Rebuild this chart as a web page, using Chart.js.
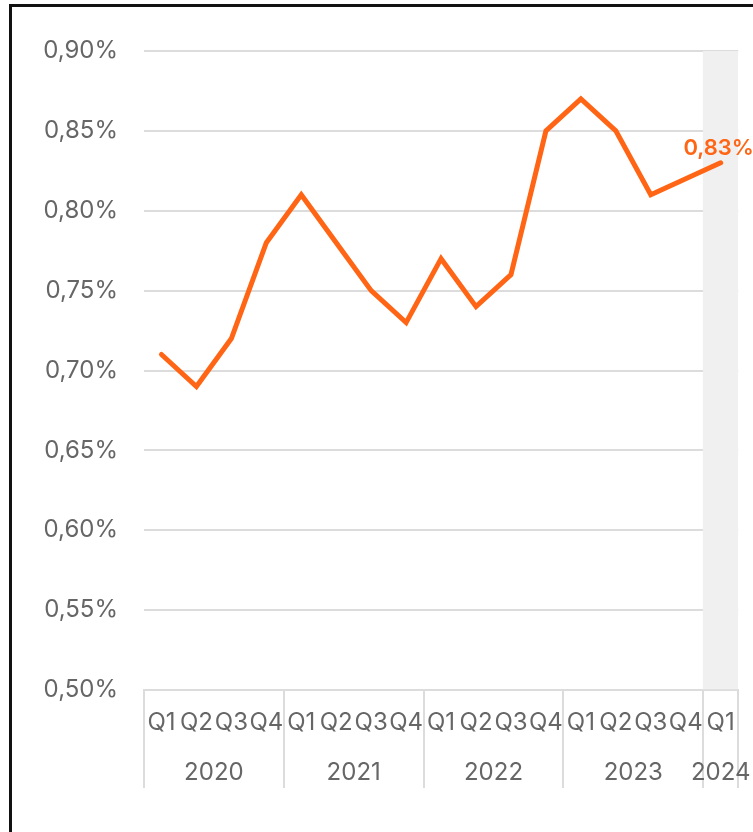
<!DOCTYPE html>
<html>
<head>
<meta charset="utf-8">
<script src="https://cdn.jsdelivr.net/npm/chart.js@4.4.1/dist/chart.umd.min.js"></script>
<style>
  html, body { margin: 0; padding: 0; background: #fff; overflow: hidden; }
  #wrap { position: relative; width: 753px; height: 832px; }
  #c { position: absolute; left: 0; top: 0; }
  #frame { position: absolute; left: 9px; top: 4px; width: 900px; height: 900px;
           border-left: 3px solid #111; border-top: 3px solid #111; pointer-events: none; }
</style>
</head>
<body>
<div id="wrap">
  <canvas id="c" width="753" height="832"></canvas>
  <div id="frame"></div>
</div>
<script>
const quarters = ['Q1','Q2','Q3','Q4','Q1','Q2','Q3','Q4','Q1','Q2','Q3','Q4','Q1','Q2','Q3','Q4','Q1'];
const categoryYears = ['2020','2020','2020','2020','2021','2021','2021','2021','2022','2022','2022','2022','2023','2023','2023','2023','2024'];
const rateValues = [0.71, 0.69, 0.72, 0.78, 0.81, 0.78, 0.75, 0.73, 0.77, 0.74, 0.76, 0.85, 0.87, 0.85, 0.81, 0.82, 0.83];
const highlightValues = [null,null,null,null,null,null,null,null,null,null,null,null,null,null,null,null,0.90];
const yTicks = [0.50, 0.55, 0.60, 0.65, 0.70, 0.75, 0.80, 0.85, 0.90];

const FONT = 'Inter, "Open Sans", sans-serif';
const ORANGE = '#FF6514';
const GRID = '#dcdcdc';
const fmt = v => v.toFixed(2).replace('.', ',') + '%';

const yearGroups = [];
categoryYears.forEach((y, i) => {
  const g = yearGroups[yearGroups.length - 1];
  if (g && g.year === y) g.end = i; else yearGroups.push({ year: y, start: i, end: i });
});

const groupPlugin = {
  id: 'groups',
  afterDraw(chart) {
    const ctx = chart.ctx, xs = chart.scales.x, area = chart.chartArea;
    const step = xs.getPixelForValue(1) - xs.getPixelForValue(0);
    const top = area.bottom, bottom = top + 98;
    ctx.save();
    ctx.strokeStyle = GRID; ctx.lineWidth = 2;
    const bounds = new Set();
    yearGroups.forEach(g => {
      bounds.add(xs.getPixelForValue(g.start) - step / 2);
      bounds.add(xs.getPixelForValue(g.end) + step / 2);
    });
    bounds.forEach(x => {
      ctx.beginPath(); ctx.moveTo(Math.round(x), top); ctx.lineTo(Math.round(x), bottom); ctx.stroke();
    });
    ctx.fillStyle = '#666';
    ctx.font = '400 24px ' + FONT;
    ctx.textAlign = 'center'; ctx.textBaseline = 'middle';
    yearGroups.forEach(g => {
      const cx = (xs.getPixelForValue(g.start) + xs.getPixelForValue(g.end)) / 2;
      ctx.fillText(g.year, cx, top + 83);
    });
    // last value label
    const meta = chart.getDatasetMeta(1);
    const last = meta.data[meta.data.length - 1];
    ctx.fillStyle = ORANGE;
    ctx.font = '600 22px ' + FONT;
    ctx.textBaseline = 'alphabetic';
    ctx.fillText(fmt(rateValues[rateValues.length - 1]), last.x - 2, last.y - 8);
    ctx.restore();
  }
};

new Chart(document.getElementById('c'), {
  type: 'bar',
  data: {
    labels: quarters,
    datasets: [
      { type: 'bar', data: highlightValues, backgroundColor: '#f0f0f0', barPercentage: 1, categoryPercentage: 1, order: 2, base: 0.5 },
      { type: 'line', data: rateValues, borderColor: ORANGE, borderWidth: 5, pointRadius: 0, tension: 0, order: 1, borderCapStyle: 'round', clip: false }
    ]
  },
  options: {
    responsive: false,
    animation: false,
    layout: { padding: { left: 10, right: 9, top: 51, bottom: 42 } },
    plugins: { legend: { display: false }, tooltip: { enabled: false } },
    scales: {
      x: {
        offset: true,
        grid: { display: false, drawTicks: false },
        border: { display: true, color: GRID, width: 2 },
        ticks: { color: '#666', font: { family: FONT, size: 24 }, padding: 18, autoSkip: false, maxRotation: 0 },
        afterFit(s) { s.height = 100; }
      },
      y: {
        min: 0.5, max: 0.9,
        afterBuildTicks(s) { s.ticks = yTicks.map(v => ({ value: v })); },
        grid: { color: GRID, lineWidth: 2, drawTicks: false },
        border: { display: false },
        ticks: { color: '#666', font: { family: FONT, size: 24 }, padding: 26, callback: v => fmt(v) },
        afterFit(s) { s.width = 134; }
      }
    }
  },
  plugins: [groupPlugin]
});
</script>
</body>
</html>
